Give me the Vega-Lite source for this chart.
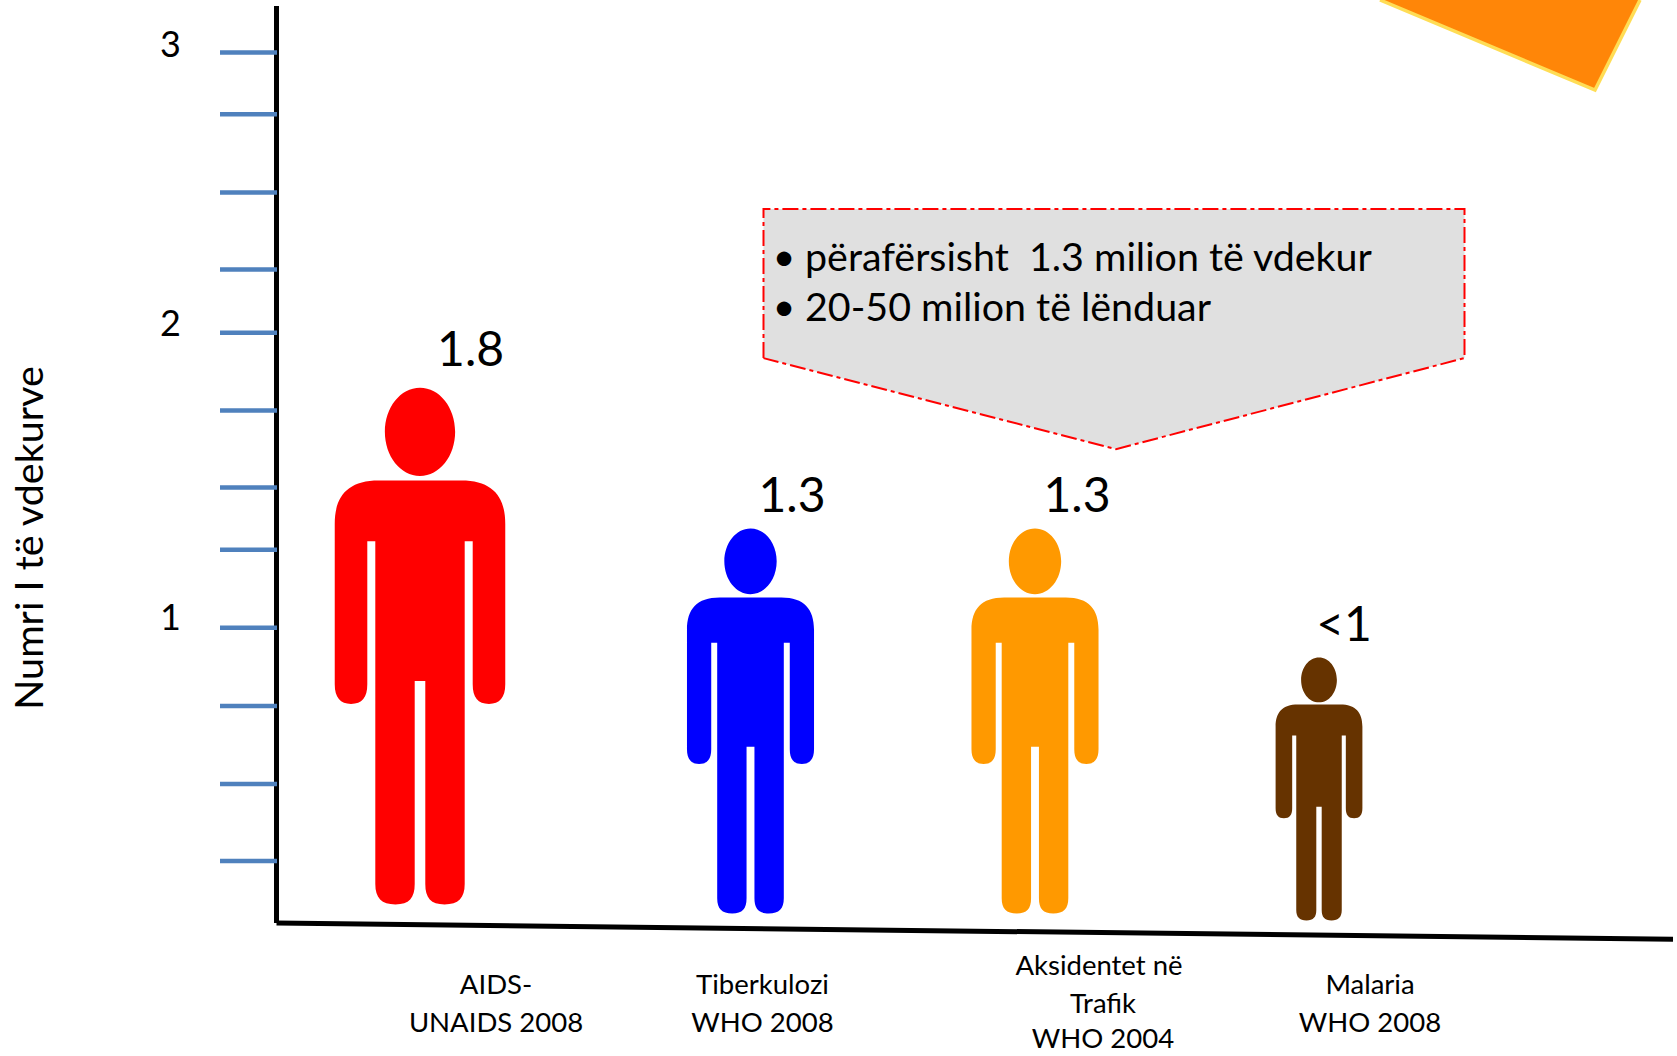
{
"$schema":"https://vega.github.io/schema/vega-lite/v6.json",
"width":1677,"height":1056,
"autosize":{"type":"none"},
"padding":0,
"background":"white",
"config":{"view":{"stroke":null},"text":{"font":"Lato","color":"#000000"}},
"datasets":{
"people":[
{"cause":"AIDS","x":4.20,"y":0.920,"value":1.8},
{"cause":"Tiberkulozi","x":7.505,"y":0.679,"value":1.3},
{"cause":"Aksidentet","x":10.35,"y":0.679,"value":1.3},
{"cause":"Malaria","x":13.19,"y":0.460,"value":0.9}
],
"ticks":[
{"x":2.2,"x2":2.77,"y":2.831},{"x":2.2,"x2":2.77,"y":2.632},{"x":2.2,"x2":2.77,"y":2.380},{"x":2.2,"x2":2.77,"y":2.132},
{"x":2.2,"x2":2.77,"y":1.929},{"x":2.2,"x2":2.77,"y":1.678},{"x":2.2,"x2":2.77,"y":1.430},{"x":2.2,"x2":2.77,"y":1.230},
{"x":2.2,"x2":2.77,"y":0.979},{"x":2.2,"x2":2.77,"y":0.727},{"x":2.2,"x2":2.77,"y":0.476},{"x":2.2,"x2":2.77,"y":0.228}
],
"axes":[
{"x":2.765,"x2":2.765,"y":2.981,"y2":0.028},
{"x":2.765,"x2":16.73,"y":0.028,"y2":-0.024}
],
"calloutFill":[
{"x":7.635,"y":2.327,"y2":1.847},
{"x":11.16,"y":2.327,"y2":1.554},
{"x":14.645,"y":2.327,"y2":1.847}
],
"calloutEdge":[
{"k":1,"x":7.635,"y":1.847},{"k":2,"x":7.635,"y":2.327},{"k":3,"x":14.645,"y":2.327},
{"k":4,"x":14.645,"y":1.847},{"k":5,"x":11.16,"y":1.554},{"k":6,"x":7.635,"y":1.847}
],
"cornerFill":[
{"x":13.80,"y":3.0,"y2":3.0},
{"x":15.95,"y":3.0,"y2":2.71},
{"x":16.40,"y":3.0,"y2":3.0}
],
"cornerEdge":[
{"k":1,"x":13.80,"y":3.0},{"k":2,"x":15.95,"y":2.71},{"k":3,"x":16.40,"y":3.0}
],
"values":[
{"x":4.706,"y":1.868,"t":"1.8"},{"x":7.92,"y":1.395,"t":"1.3"},{"x":10.77,"y":1.395,"t":"1.3"},{"x":13.44,"y":0.981,"t":"<1"}
],
"cats":[
{"x":4.96,"y":-0.175,"t":"AIDS-"},{"x":4.96,"y":-0.298,"t":"UNAIDS 2008"},
{"x":7.625,"y":-0.175,"t":"Tiberkulozi"},{"x":7.625,"y":-0.298,"t":"WHO 2008"},
{"x":10.99,"y":-0.114,"t":"Aksidentet në"},{"x":11.03,"y":-0.235,"t":"Trafik"},{"x":11.03,"y":-0.348,"t":"WHO 2004"},
{"x":13.70,"y":-0.175,"t":"Malaria"},{"x":13.70,"y":-0.298,"t":"WHO 2008"}
],
"ylabels":[{"x":1.705,"y":2.851,"t":"3"},{"x":1.705,"y":1.954,"t":"2"},{"x":1.705,"y":1.006,"t":"1"}],
"ytitle":[{"x":0.31,"y":1.268,"t":"Numri I të vdekurve"}],
"note":[{"x":8.05,"y":2.165,"t":"përafërsisht\u00a0 1.3 milion të vdekur"},{"x":8.05,"y":2.004,"t":"20-50 milion të lënduar"}],
"bullets":[{"x":7.84,"y":2.170,"t":"•"},{"x":7.84,"y":2.009,"t":"•"}]
},
"encoding":{
"x":{"field":"x","type":"quantitative","axis":null,"scale":{"domain":[0,16.77],"nice":false,"zero":false}},
"y":{"field":"y","type":"quantitative","axis":null,"scale":{"domain":[-0.4,3.0],"nice":false,"zero":false}}
},
"layer":[
{"data":{"name":"cornerFill"},"mark":{"type":"area","color":"#ff8608","clip":true},"encoding":{"y2":{"field":"y2"}}},
{"data":{"name":"cornerEdge"},"mark":{"type":"line","color":"#ffdd55","strokeWidth":3.5,"clip":true},"encoding":{"order":{"field":"k"}}},
{"data":{"name":"axes"},"mark":{"type":"rule","color":"#000000","strokeWidth":5},"encoding":{"x2":{"field":"x2"},"y2":{"field":"y2"}}},
{"data":{"name":"ticks"},"mark":{"type":"rule","color":"#4f81bd","strokeWidth":4.5},"encoding":{"x2":{"field":"x2"}}},
{"data":{"name":"calloutFill"},"mark":{"type":"area","color":"#e0e0e0"},"encoding":{"y2":{"field":"y2"}}},
{"data":{"name":"calloutEdge"},"mark":{"type":"line","color":"#ff0000","strokeWidth":2,"strokeDash":[16,4,4,4]},"encoding":{"order":{"field":"k"}}},
{"data":{"name":"people"},
 "mark":{"type":"point","filled":true,"opacity":1,"strokeWidth":0,
 "shape":"M-0.16,-0.641 L0.16,-0.641 C0.28,-0.641 0.33,-0.58 0.33,-0.473 L0.33,0.148 C0.33,0.2 0.308,0.224 0.267,0.224 C0.224,0.224 0.204,0.2 0.204,0.148 L0.204,-0.406 L0.173,-0.406 L0.173,0.921 C0.173,0.975 0.149,1 0.095,1 C0.042,1 0.0205,0.975 0.0205,0.921 L0.0205,0.135 L-0.0205,0.135 L-0.0205,0.921 C-0.0205,0.975 -0.042,1 -0.095,1 C-0.149,1 -0.173,0.975 -0.173,0.921 L-0.173,-0.406 L-0.204,-0.406 L-0.204,0.148 C-0.204,0.2 -0.224,0.224 -0.267,0.224 C-0.308,0.224 -0.33,0.2 -0.33,0.148 L-0.33,-0.473 C-0.33,-0.58 -0.28,-0.641 -0.16,-0.641 Z M-0.136,-0.829 C-0.136,-0.923 -0.076,-1 0,-1 C0.076,-1 0.136,-0.923 0.136,-0.829 C0.136,-0.735 0.076,-0.658 0,-0.658 C-0.076,-0.658 -0.136,-0.735 -0.136,-0.829 Z"},
 "encoding":{
  "size":{"field":"value","type":"quantitative","legend":null,"scale":{"domain":[0.9,1.3,1.8],"range":[69169,148225,267000]}},
  "color":{"field":"cause","type":"nominal","legend":null,"scale":{"domain":["AIDS","Tiberkulozi","Aksidentet","Malaria"],"range":["#ff0000","#0000ff","#ff9900","#663300"]}}
 }},
{"data":{"name":"values"},"mark":{"type":"text","fontSize":48,"align":"center","baseline":"middle"},"encoding":{"text":{"field":"t"}}},
{"data":{"name":"cats"},"mark":{"type":"text","fontSize":27.5,"align":"center","baseline":"middle"},"encoding":{"text":{"field":"t"}}},
{"data":{"name":"ylabels"},"mark":{"type":"text","fontSize":36,"align":"center","baseline":"middle"},"encoding":{"text":{"field":"t"}}},
{"data":{"name":"ytitle"},"mark":{"type":"text","fontSize":39.5,"align":"center","baseline":"middle","angle":270},"encoding":{"text":{"field":"t"}}},
{"data":{"name":"note"},"mark":{"type":"text","fontSize":39.4,"align":"left","baseline":"middle"},"encoding":{"text":{"field":"t"}}},
{"data":{"name":"bullets"},"mark":{"type":"text","fontSize":39,"align":"center","baseline":"middle"},"encoding":{"text":{"field":"t"}}}
]
}
